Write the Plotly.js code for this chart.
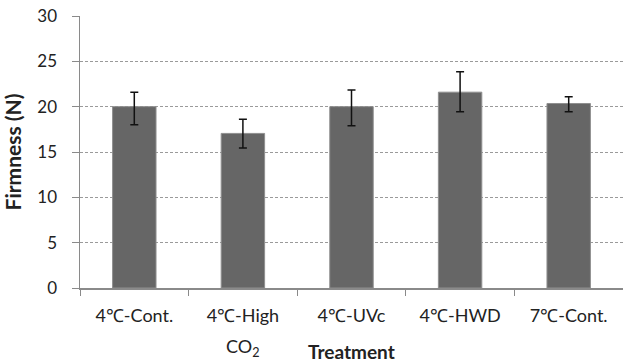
<!DOCTYPE html>
<html>
<head>
<meta charset="utf-8">
<script src="https://cdn.plot.ly/plotly-3.0.1.min.js"></script>
<style>html,body{margin:0;padding:0;background:#fff;}#chart{width:623px;height:362px;}</style>
</head>
<body>
<div id="chart"></div>
<script>
var categories = ["4℃-Cont.", "4℃-High CO2", "4℃-UVc", "4℃-HWD", "7℃-Cont."];
var tickLabels = ["4℃-Cont.", "4℃-High", "4℃-UVc", "4℃-HWD", "7℃-Cont."];
var secondLineLabel = "CO<sub>2</sub>";
var firmness = [20.0, 17.05, 20.0, 21.6, 20.35];
var errPlus = [1.6, 1.55, 1.85, 2.25, 0.75];
var errMinus = [2.0, 1.6, 2.1, 2.15, 0.9];
var yTicks = [0, 5, 10, 15, 20, 25, 30];

var font = "Lato, 'Open Sans', sans-serif";

var trace = {
  type: "bar",
  x: categories,
  y: firmness,
  width: 0.4,
  marker: {color: "#666666", line: {color: "#8f8f8f", width: 1}},
  error_y: {
    type: "data", symmetric: false,
    array: errPlus, arrayminus: errMinus,
    color: "#111111", thickness: 1.5, width: 4
  },
  hoverinfo: "skip"
};

var layout = {
  width: 623, height: 362,
  margin: {l: 80, r: 0, t: 16, b: 74},
  paper_bgcolor: "#ffffff", plot_bgcolor: "#ffffff",
  showlegend: false,
  font: {family: font, color: "#222222", size: 17},
  xaxis: {
    type: "category",
    range: [-0.5, 4.5],
    tickson: "boundaries",
    tickvals: categories,
    ticktext: tickLabels,
    ticks: "outside", ticklen: 6, tickcolor: "#8a8a8a", tickwidth: 1,
    showline: true, linecolor: "#8a8a8a", linewidth: 1.5,
    showgrid: false, zeroline: false,
    tickfont: {family: font, size: 18, color: "#222222"},
    ticklabelstandoff: 11
  },
  yaxis: {
    range: [0, 30],
    tickvals: yTicks,
    ticktext: yTicks.map(String),
    ticks: "outside", ticklen: 7, tickcolor: "#8a8a8a", tickwidth: 1,
    showline: true, linecolor: "#8a8a8a", linewidth: 1.5,
    showgrid: true, gridcolor: "#9a9a9a", gridwidth: 1, griddash: "3px,2px",
    zeroline: false,
    tickfont: {family: font, size: 17, color: "#222222"},
    ticklabelstandoff: 11,
    title: {text: "Firmness (N)", font: {family: font, size: 21, color: "#222222", weight: "bold"}, standoff: 16}
  },
  annotations: [{
    text: secondLineLabel, xref: "x", yref: "paper", x: categories[1], y: 0,
    xanchor: "center", yanchor: "top", yshift: -45, showarrow: false,
    font: {family: font, size: 18, color: "#222222"}
  }, {
    text: "Treatment", xref: "paper", yref: "paper", x: 0.5, y: 0,
    xanchor: "center", yanchor: "top", yshift: -50, showarrow: false,
    font: {family: font, size: 19, color: "#222222", weight: "bold"}
  }]
};

Plotly.newPlot("chart", [trace], layout, {displayModeBar: false, staticPlot: true});
</script>
</body>
</html>
